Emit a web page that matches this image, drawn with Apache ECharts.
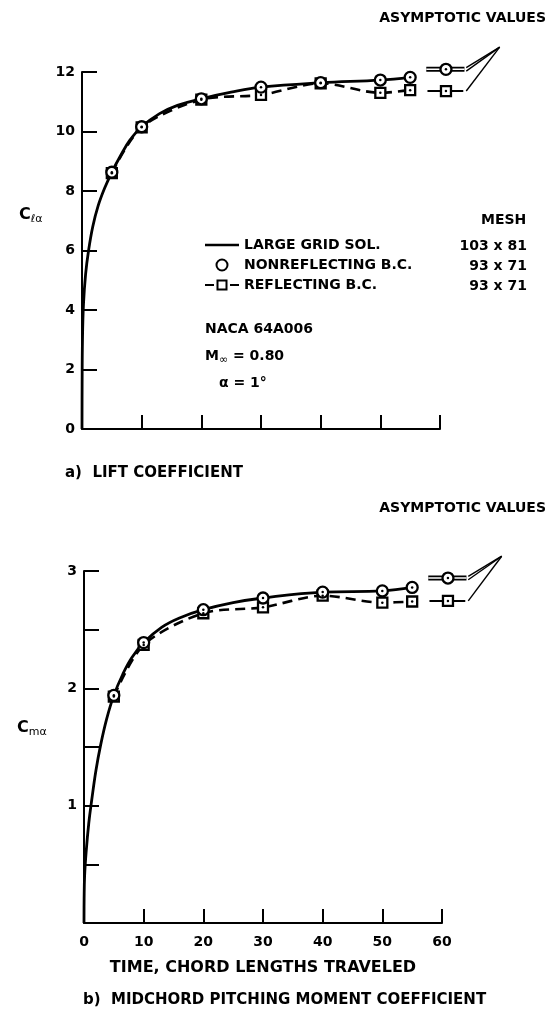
<!DOCTYPE html>
<html>
<head>
<meta charset="utf-8">
<script src="https://cdn.jsdelivr.net/npm/echarts@6/dist/echarts.min.js"></script>
<style>
html, body { margin: 0; padding: 0; background: #fff; }
#chart { width: 555px; height: 1011px; }
</style>
</head>
<body>
<div id="chart"></div>
<script>
// times where the two boundary-condition runs are marked
var tMarks = [5, 10, 20, 30, 40, 50, 55];
var tAsym = 61;

// a) lift coefficient
var tGridL = [0, 0.02, 0.08, 0.25, 0.6, 1.1, 1.8, 2.7, 3.8, 5, 6.5, 8, 10, 13, 16, 20, 25, 30, 40, 50, 55];
var clGrid = [0, 1.5, 3.0, 4.2, 5.2, 6.0, 6.8, 7.5, 8.1, 8.63, 9.2, 9.7, 10.16, 10.6, 10.88, 11.10, 11.32, 11.49, 11.64, 11.73, 11.82];
var clNonRefl = [8.63, 10.16, 11.10, 11.49, 11.64, 11.73, 11.82];
var clRefl = [8.60, 10.14, 11.07, 11.23, 11.62, 11.30, 11.39];
var clAsym = [12.09, 11.36];   // nonreflecting, reflecting

// b) midchord pitching moment
var tGridM = [0, 0.02, 0.1, 0.35, 0.8, 1.3, 2, 2.8, 3.8, 5, 6.5, 8, 10, 13, 16, 20, 25, 30, 40, 50, 55];
var cmGrid = [0, 0.2, 0.4, 0.6, 0.85, 1.05, 1.3, 1.52, 1.74, 1.94, 2.12, 2.26, 2.39, 2.52, 2.6, 2.67, 2.73, 2.77, 2.82, 2.83, 2.86];
var cmNonRefl = [1.94, 2.39, 2.67, 2.77, 2.82, 2.83, 2.86];
var cmRefl = [1.93, 2.37, 2.64, 2.69, 2.79, 2.73, 2.74];
var cmAsym = [2.94, 2.745];

var FONT = 'DejaVu Sans';

function zip(xs, ys) {
    return xs.map(function (x, i) { return [x, ys[i]]; });
}

// gi: main grid, ai: overlay grid (same scale, wider range) for the asymptotic marks
function buildSeries(gi, ai, tGrid, vGrid, vNon, vRefl, vAsym, yMax) {
    var apex = [tAsym + 9, vAsym[0] + 0.062 * yMax];
    var off = 0.005 * yMax;
    var main = [
        {
            name: 'LARGE GRID SOL.', type: 'line', data: zip(tGrid, vGrid),
            smooth: 0.4, symbol: 'none',
            lineStyle: { color: '#000', width: 2.8 }, itemStyle: { color: '#000' }, z: 3
        },
        {
            name: 'REFLECTING B.C.', type: 'line', data: zip(tMarks, vRefl),
            smooth: 0.3, symbol: 'rect', symbolSize: 10,
            lineStyle: { color: '#000', width: 2.6, type: [10, 6] },
            itemStyle: { color: '#fff', borderColor: '#000', borderWidth: 2.3 }, z: 4
        },
        {
            name: 'NONREFLECTING B.C.', type: 'scatter', data: zip(tMarks, vNon),
            symbol: 'circle', symbolSize: 11,
            itemStyle: { color: '#fff', borderColor: '#000', borderWidth: 2.3, opacity: 1 }, z: 5
        },
        {
            name: 'dot', type: 'scatter', data: zip(tMarks, vNon).concat(zip(tMarks, vRefl)),
            symbol: 'circle', symbolSize: 2.5, itemStyle: { color: '#000', opacity: 1 }, z: 6
        }
    ];
    var side = [
        {
            name: 'asym', type: 'line', symbol: 'none', z: 3,
            data: [[tAsym - 3.3, vAsym[0]], [tAsym + 3.1, vAsym[0]]],
            lineStyle: { color: '#000', width: 5 }
        },
        {
            name: 'asym', type: 'line', symbol: 'none', z: 3,
            data: [[tAsym - 3.3, vAsym[0]], [tAsym + 3.1, vAsym[0]]],
            lineStyle: { color: '#fff', width: 1.4 }
        },
        {
            name: 'asym', type: 'line', symbol: 'none', z: 3,
            data: [[tAsym - 3.1, vAsym[1]], [tAsym + 2.9, vAsym[1]]],
            lineStyle: { color: '#000', width: 2 }
        },
        {
            name: 'asym', type: 'scatter', z: 5,
            data: [
                { value: [tAsym, vAsym[0]], symbol: 'circle', symbolSize: 11 },
                { value: [tAsym, vAsym[1]], symbol: 'rect', symbolSize: 10 }
            ],
            itemStyle: { color: '#fff', borderColor: '#000', borderWidth: 2.3, opacity: 1 }
        },
        {
            name: 'dot', type: 'scatter', z: 6,
            data: [[tAsym, vAsym[0]], [tAsym, vAsym[1]]],
            symbol: 'circle', symbolSize: 2.5, itemStyle: { color: '#000', opacity: 1 }
        }
    ];
    // leader lines from the asymptotic marks up to the label
    [[tAsym + 3.4, vAsym[0] + off], [tAsym + 3.4, vAsym[0] - off], [tAsym + 3.4, vAsym[1]]].forEach(function (p) {
        side.push({
            name: 'leader', type: 'line', symbol: 'none', z: 3,
            data: [p, apex], lineStyle: { color: '#000', width: 1.4 }
        });
    });
    main.forEach(function (s) { s.xAxisIndex = gi; s.yAxisIndex = gi; });
    side.forEach(function (s) { s.xAxisIndex = ai; s.yAxisIndex = ai; });
    return main.concat(side);
}

function xAxisFor(gi, showLabels) {
    return {
        gridIndex: gi, type: 'value', min: 0, max: 60, interval: 10,
        axisLine: { onZero: false, lineStyle: { color: '#000', width: 2 } },
        axisTick: { inside: true, length: 14, lineStyle: { color: '#000', width: 2 } },
        splitLine: { show: false },
        axisLabel: { show: showLabels, color: '#000', fontFamily: FONT, fontWeight: 'bold', fontSize: 14, margin: 12 },
        name: showLabels ? 'TIME, CHORD LENGTHS TRAVELED' : '',
        nameLocation: 'middle', nameGap: 37,
        nameTextStyle: { color: '#000', fontFamily: FONT, fontWeight: 'bold', fontSize: 16 }
    };
}

function yAxisFor(gi, max, interval, fmt) {
    return {
        gridIndex: gi, type: 'value', min: 0, max: max, interval: interval,
        axisLine: { show: true, onZero: false, lineStyle: { color: '#000', width: 2 } },
        axisTick: { show: true, inside: true, length: 15, lineStyle: { color: '#000', width: 2 } },
        splitLine: { show: false },
        axisLabel: { color: '#000', fontFamily: FONT, fontWeight: 'bold', fontSize: 14, margin: 7, formatter: fmt }
    };
}

function hiddenAxis(gi, max) {
    return { gridIndex: gi, type: 'value', min: 0, max: max, show: false };
}

var txt = { color: '#000', fontFamily: FONT, fontWeight: 'bold', fontSize: 14 };
function label(text, pos) {
    var t = { text: text, textStyle: Object.assign({}, txt, pos.style || {}) };
    ['left', 'right', 'top'].forEach(function (k) { if (pos[k] !== undefined) t[k] = pos[k]; });
    return t;
}

var subRich = {
    c: { fontFamily: FONT, fontWeight: 'bold', fontSize: 16, color: '#000' },
    s: { fontFamily: FONT, fontWeight: 'normal', fontSize: 11, color: '#000', padding: [9, 0, 0, 0] },
    m: { fontFamily: FONT, fontWeight: 'bold', fontSize: 14, color: '#000' }
};

var chart = echarts.init(document.getElementById('chart'), null, { renderer: 'canvas' });

var option = {
    backgroundColor: '#fff',
    animation: false,
    title: [
        label('ASYMPTOTIC VALUES', { right: 4, top: 6 }),
        label('ASYMPTOTIC VALUES', { right: 4, top: 496 }),
        label('a)  LIFT COEFFICIENT', { left: 60, top: 461, style: { fontSize: 15 } }),
        label('b)  MIDCHORD PITCHING MOMENT COEFFICIENT', { left: 78, top: 988, style: { fontSize: 15 } }),
        { text: '{c|C}{s|ℓα}', left: 14, top: 200, textStyle: { rich: subRich } },
        { text: '{c|C}{s|mα}', left: 12, top: 713, textStyle: { rich: subRich } },
        label('MESH', { left: 476, top: 208 }),
        label('103 x 81', { right: 23, top: 234 }),
        label('93 x 71', { right: 23, top: 254 }),
        label('93 x 71', { right: 23, top: 274 }),
        label('NACA 64A006', { left: 200, top: 317 }),
        { text: '{m|M}{s|∞}{m| = 0.80}', left: 200, top: 341, textStyle: { rich: subRich } },
        label('α = 1°', { left: 214, top: 371 })
    ],
    legend: {
        data: [
            { name: 'LARGE GRID SOL.', icon: 'path://M0,0 H34 V2.6 H0 Z' },
            { name: 'NONREFLECTING B.C.', icon: 'circle' },
            {
                name: 'REFLECTING B.C.',
                icon: 'path://M0,4.6 H9 V6.4 H0 Z M25,4.6 H34 V6.4 H25 Z M11.5,0 H22.5 V11 H11.5 Z M13.5,2 V9 H20.5 V2 Z',
                itemStyle: { color: '#000', borderWidth: 0 }
            }
        ],
        orient: 'vertical', left: 200, top: 233,
        itemWidth: 34, itemHeight: 11, itemGap: 6,
        selectedMode: false,
        textStyle: { color: '#000', fontFamily: FONT, fontWeight: 'bold', fontSize: 14, lineHeight: 14 }
    },
    grid: [
        { left: 82, top: 72, width: 358, height: 357 },
        { left: 84, top: 571, width: 358, height: 352 },
        { left: 82, top: 12.5, width: 447.5, height: 416.5 },
        { left: 84, top: 512.33, width: 447.5, height: 410.67 }
    ],
    xAxis: [xAxisFor(0, false), xAxisFor(1, true), hiddenAxis(2, 75), hiddenAxis(3, 75)],
    yAxis: [
        yAxisFor(0, 12, 2),
        yAxisFor(1, 3, 0.5, function (v) { return (v > 0 && v % 1 === 0) ? String(v) : ''; }),
        hiddenAxis(2, 14),
        hiddenAxis(3, 3.5)
    ],
    series: buildSeries(0, 2, tGridL, clGrid, clNonRefl, clRefl, clAsym, 12)
        .concat(buildSeries(1, 3, tGridM, cmGrid, cmNonRefl, cmRefl, cmAsym, 3))
};

chart.setOption(option);
</script>
</body>
</html>
